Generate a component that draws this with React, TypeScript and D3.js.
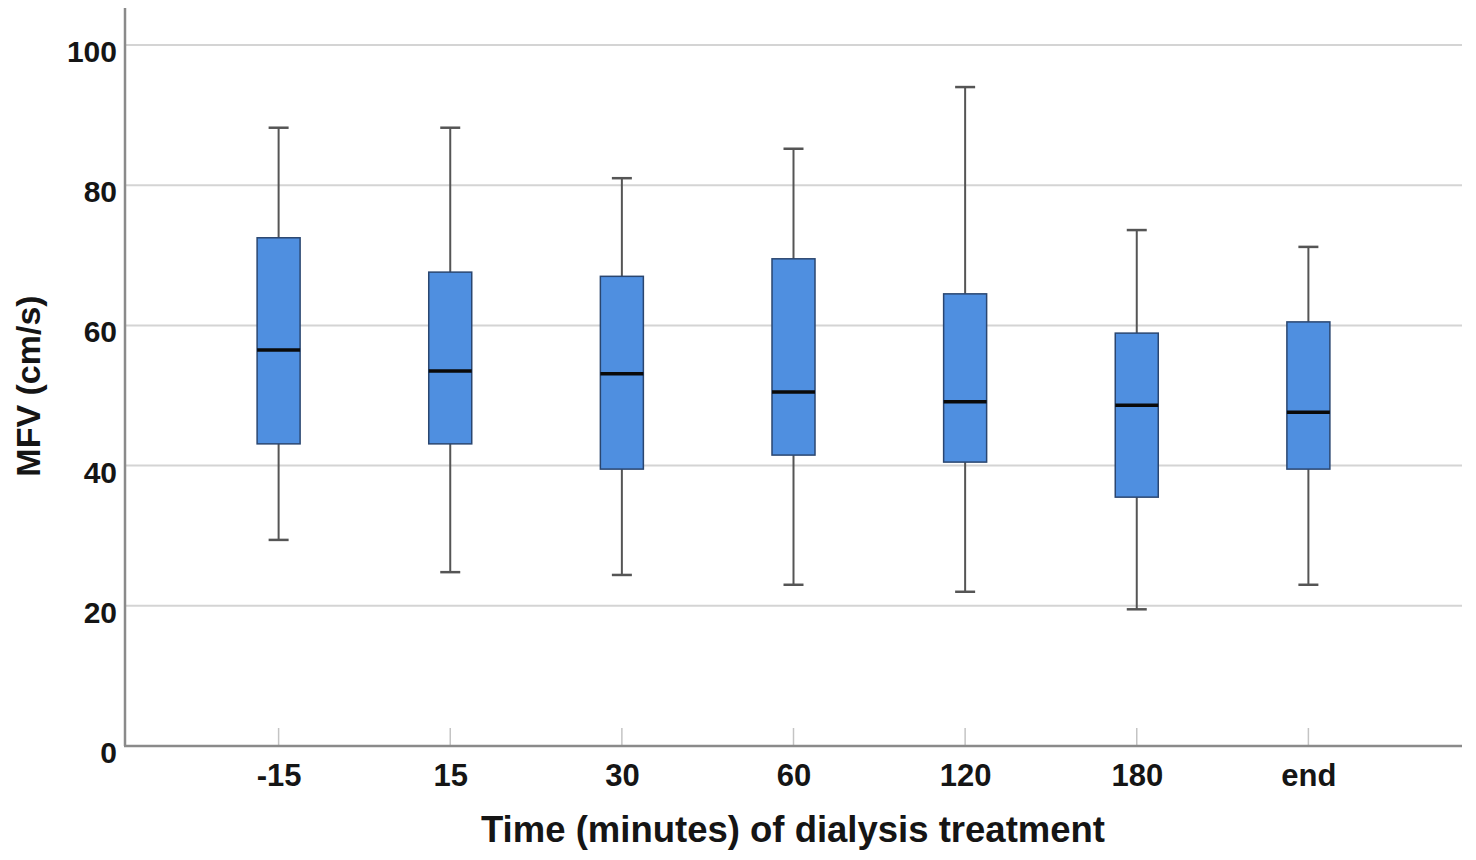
import React, { useEffect, useRef } from "react";
import { select, scaleLinear, scalePoint, axisLeft, axisBottom } from "d3";

// categories and box statistics
const categories = ["-15", "15", "30", "60", "120", "180", "end"];
const whiskerHigh = [88.2, 88.2, 81, 85.2, 94, 73.6, 71.2];
const q3 = [72.5, 67.6, 67, 69.5, 64.5, 58.9, 60.5];
const median = [56.5, 53.5, 53.1, 50.5, 49.1, 48.6, 47.6];
const q1 = [43.1, 43.1, 39.5, 41.5, 40.5, 35.5, 39.5];
const whiskerLow = [29.4, 24.8, 24.4, 23, 22, 19.5, 23];
const yTicks = [0, 20, 40, 60, 80, 100];

const WIDTH = 1476;
const HEIGHT = 860;
const LEFT = 125;
const RIGHT = 1462;
const TOP = 8;
const BOTTOM = 746;

const App = () => {
  const svgRef = useRef<SVGSVGElement | null>(null);

  useEffect(() => {
    const svg = select(svgRef.current);
    svg.selectAll("*").remove();

    const yScale = scaleLinear().domain([0, 100]).range([BOTTOM, 45]);
    const xScale = scalePoint<string>()
      .domain(categories)
      .range([LEFT, RIGHT])
      .padding(0.895);

    const font = "'Liberation Sans', Arial, sans-serif";

    // gridlines
    svg
      .append("g")
      .selectAll("line")
      .data(yTicks.filter((t) => t > 0))
      .enter()
      .append("line")
      .attr("x1", LEFT)
      .attr("x2", RIGHT)
      .attr("y1", (d) => yScale(d))
      .attr("y2", (d) => yScale(d))
      .attr("stroke", "#d4d4d4")
      .attr("stroke-width", 2);

    // y axis
    const yAxis = axisLeft(yScale).tickValues(yTicks).tickSize(0).tickPadding(8);
    const yg = svg.append("g").attr("transform", `translate(${LEFT},0)`).call(yAxis);
    yg.select(".domain").remove();
    yg.selectAll("text")
      .attr("font-family", font)
      .attr("font-size", 30)
      .attr("font-weight", "bold")
      .attr("dy", "0.55em")
      .attr("fill", "#151515");
    svg
      .append("line")
      .attr("x1", LEFT)
      .attr("x2", LEFT)
      .attr("y1", TOP)
      .attr("y2", BOTTOM)
      .attr("stroke", "#8a8a8a")
      .attr("stroke-width", 2.5);

    // x axis
    const xAxis = axisBottom(xScale).tickSize(0).tickPadding(18);
    const xg = svg.append("g").attr("transform", `translate(0,${BOTTOM})`).call(xAxis);
    xg.select(".domain").remove();
    xg.selectAll("text")
      .attr("font-family", font)
      .attr("font-size", 31)
      .attr("font-weight", "bold")
      .attr("fill", "#151515");
    // small ticks pointing up
    svg
      .append("g")
      .selectAll("line")
      .data(categories)
      .enter()
      .append("line")
      .attr("x1", (d) => xScale(d)!)
      .attr("x2", (d) => xScale(d)!)
      .attr("y1", BOTTOM - 18)
      .attr("y2", BOTTOM)
      .attr("stroke", "#c4c4c4")
      .attr("stroke-width", 1.5);
    svg
      .append("line")
      .attr("x1", LEFT - 1)
      .attr("x2", RIGHT)
      .attr("y1", BOTTOM)
      .attr("y2", BOTTOM)
      .attr("stroke", "#8a8a8a")
      .attr("stroke-width", 2.5);

    // boxes
    const boxW = 43;
    const capW = 20;
    const g = svg
      .append("g")
      .selectAll("g")
      .data(categories)
      .enter()
      .append("g")
      .attr("transform", (d) => `translate(${xScale(d)},0)`);

    g.append("line")
      .attr("x1", 0)
      .attr("x2", 0)
      .attr("y1", (_, i) => yScale(whiskerHigh[i]))
      .attr("y2", (_, i) => yScale(q3[i]))
      .attr("stroke", "#555")
      .attr("stroke-width", 2);
    g.append("line")
      .attr("x1", 0)
      .attr("x2", 0)
      .attr("y1", (_, i) => yScale(q1[i]))
      .attr("y2", (_, i) => yScale(whiskerLow[i]))
      .attr("stroke", "#555")
      .attr("stroke-width", 2);
    g.append("line")
      .attr("x1", -capW / 2)
      .attr("x2", capW / 2)
      .attr("y1", (_, i) => yScale(whiskerHigh[i]))
      .attr("y2", (_, i) => yScale(whiskerHigh[i]))
      .attr("stroke", "#555")
      .attr("stroke-width", 2.5);
    g.append("line")
      .attr("x1", -capW / 2)
      .attr("x2", capW / 2)
      .attr("y1", (_, i) => yScale(whiskerLow[i]))
      .attr("y2", (_, i) => yScale(whiskerLow[i]))
      .attr("stroke", "#555")
      .attr("stroke-width", 2.5);
    g.append("rect")
      .attr("x", -boxW / 2)
      .attr("width", boxW)
      .attr("y", (_, i) => yScale(q3[i]))
      .attr("height", (_, i) => yScale(q1[i]) - yScale(q3[i]))
      .attr("fill", "#4f8fe0")
      .attr("stroke", "#2a4670")
      .attr("stroke-width", 1.5);
    g.append("line")
      .attr("x1", -boxW / 2)
      .attr("x2", boxW / 2)
      .attr("y1", (_, i) => yScale(median[i]))
      .attr("y2", (_, i) => yScale(median[i]))
      .attr("stroke", "#0a0a0a")
      .attr("stroke-width", 3.5);

    // axis titles
    svg
      .append("text")
      .attr("x", 793)
      .attr("y", 842)
      .attr("text-anchor", "middle")
      .attr("font-family", font)
      .attr("font-size", 36.5)
      .attr("font-weight", "bold")
      .attr("fill", "#151515")
      .text("Time (minutes) of dialysis treatment");
    svg
      .append("text")
      .attr("transform", `translate(40,386) rotate(-90)`)
      .attr("text-anchor", "middle")
      .attr("font-family", font)
      .attr("font-size", 34)
      .attr("font-weight", "bold")
      .attr("fill", "#151515")
      .text("MFV (cm/s)");
  }, []);

  return (
    <div style={{ position: "absolute", left: 0, top: 0, background: "#fff" }}>
      <svg ref={svgRef} width={WIDTH} height={HEIGHT} style={{ display: "block" }}></svg>
    </div>
  );
};

export default App;
